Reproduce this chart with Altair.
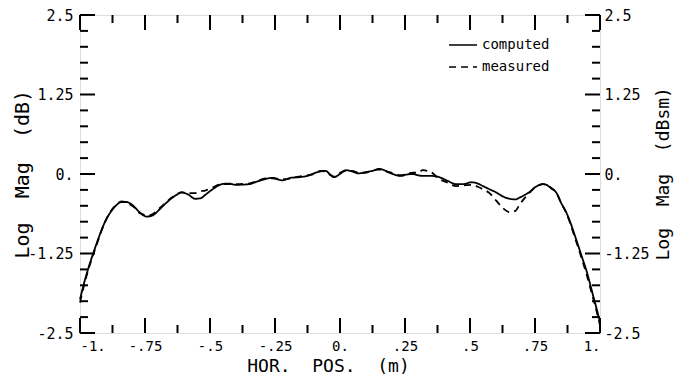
import altair as alt
import pandas as pd

# horizontal position (m)
pos_x = [-1.0, -0.98, -0.956, -0.935, -0.918, -0.9, -0.879, -0.86, -0.84, -0.82,
         -0.808, -0.79, -0.776, -0.76, -0.744, -0.72, -0.70, -0.675, -0.647, -0.625,
         -0.609, -0.585, -0.557, -0.535, -0.519, -0.49, -0.454, -0.43, -0.40, -0.351,
         -0.32, -0.287, -0.26, -0.223, -0.19, -0.158, -0.125, -0.094, -0.075, -0.055,
         -0.04, -0.023, 0.0, 0.022, 0.046, 0.073, 0.099, 0.125, 0.151, 0.17,
         0.19, 0.21, 0.234, 0.255, 0.279, 0.30, 0.318, 0.35, 0.382, 0.41,
         0.447, 0.475, 0.505, 0.53, 0.55, 0.575, 0.601, 0.625, 0.653, 0.675,
         0.691, 0.71, 0.73, 0.75, 0.768, 0.78, 0.794, 0.81, 0.833, 0.85,
         0.871, 0.885, 0.897, 0.91, 0.923, 0.935, 0.948, 0.96, 0.974, 0.987, 1.0]

mag_computed = [-1.97, -1.65, -1.33, -1.08, -0.89, -0.72, -0.58, -0.49, -0.44, -0.44,
                -0.46, -0.52, -0.58, -0.64, -0.67, -0.65, -0.58, -0.48, -0.38, -0.32,
                -0.29, -0.32, -0.39, -0.38, -0.33, -0.24, -0.16, -0.15, -0.17, -0.16,
                -0.12, -0.08, -0.06, -0.10, -0.06, -0.05, -0.03, 0.02, 0.04, 0.05,
                0.0, -0.05, 0.0, 0.06, 0.04, 0.01, 0.03, 0.05, 0.08, 0.06,
                0.02, -0.01, -0.03, -0.01, 0.0, -0.02, -0.03, -0.03, -0.05, -0.10,
                -0.16, -0.16, -0.13, -0.15, -0.19, -0.24, -0.29, -0.35, -0.39, -0.40,
                -0.37, -0.33, -0.28, -0.21, -0.17, -0.16, -0.17, -0.22, -0.30, -0.45,
                -0.61, -0.75, -0.89, -1.05, -1.21, -1.36, -1.52, -1.70, -1.92, -2.12, -2.33]

mag_measured = [-2.02, -1.68, -1.35, -1.10, -0.90, -0.72, -0.57, -0.48, -0.43, -0.45,
                -0.48, -0.53, -0.60, -0.63, -0.66, -0.63, -0.56, -0.47, -0.37, -0.31,
                -0.29, -0.30, -0.30, -0.27, -0.26, -0.21, -0.16, -0.16, -0.16, -0.15,
                -0.11, -0.07, -0.07, -0.08, -0.07, -0.04, -0.02, 0.01, 0.05, 0.04,
                -0.01, -0.04, 0.02, 0.05, 0.05, 0.02, 0.02, 0.06, 0.07, 0.05,
                0.03, 0.0, -0.02, 0.0, 0.02, 0.02, 0.06, 0.03, -0.08, -0.13,
                -0.19, -0.18, -0.17, -0.20, -0.24, -0.30, -0.42, -0.53, -0.60, -0.58,
                -0.48, -0.38, -0.29, -0.21, -0.17, -0.16, -0.17, -0.21, -0.30, -0.45,
                -0.62, -0.77, -0.92, -1.08, -1.24, -1.40, -1.57, -1.75, -1.96, -2.16, -2.38]

series_names = ["computed", "measured"]

x_major = [-1, -0.75, -0.5, -0.25, 0, 0.25, 0.5, 0.75, 1]
x_major_labels = ["-1.", "-.75", "-.5", "-.25", "0.", ".25", ".5", ".75", "1."]
x_minor = [-0.875, -0.625, -0.375, -0.125, 0.125, 0.375, 0.625, 0.875]
y_major = [-2.5, -1.25, 0, 1.25, 2.5]
y_major_labels = ["-2.5", "-1.25", "0.", "1.25", "2.5"]
y_minor = [-2.25, -2.0, -1.75, -1.5, -1.0, -0.75, -0.5, -0.25,
           0.25, 0.5, 0.75, 1.0, 1.5, 1.75, 2.0, 2.25]

assert len(pos_x) == len(mag_computed) == len(mag_measured)

df = pd.concat([
    pd.DataFrame({"x": pos_x, "mag": mag_computed, "series": series_names[0]}),
    pd.DataFrame({"x": pos_x, "mag": mag_measured, "series": series_names[1]}),
])


def label_expr(values, labels):
    parts = [f"datum.value == {v} ? '{l}'" for v, l in zip(values, labels)]
    return " : ".join(parts) + " : ''"


W, H = 520, 318
TMAJ, TMIN = 15, 8
MONO = "DejaVu Sans Mono"
NB = "\u00a0"

xscale = alt.Scale(domain=[-1, 1], nice=False, zero=False)
yscale = alt.Scale(domain=[-2.5, 2.5], nice=False, zero=False)


def axis_style(**kw):
    base = dict(ticks=False, domain=False, grid=False, labelFont=MONO,
                labelFontSize=15, labelColor="black", titleFont=MONO,
                titleFontSize=20, titleFontWeight="normal", titleColor="black",
                labelFlush=False, labelOverlap=False)
    base.update(kw)
    return alt.Axis(**base)


lines = alt.Chart(df).mark_line(color="black", strokeWidth=1.8, interpolate="monotone").encode(
    x=alt.X("x:Q", scale=xscale, axis=axis_style(
        orient="bottom", values=x_major, labelExpr=label_expr(x_major, x_major_labels),
        labelPadding=6, labelFontSize=14, labelFlush=True,
        title=f"HOR.{NB}{NB}POS.{NB}{NB}(m)", titleFontSize=18,
        titleX=248, titleY=38, titleAlign="center", titleBaseline="alphabetic")),
    y=alt.Y("mag:Q", scale=yscale, axis=axis_style(
        orient="left", values=y_major, labelExpr=label_expr(y_major, y_major_labels),
        labelPadding=7, title=f"Log{NB}{NB}Mag{NB}{NB}(dB)", titleAngle=270,
        titleX=-58, titleY=243, titleAlign="left", titleBaseline="middle")),
    strokeDash=alt.StrokeDash("series:N", scale=alt.Scale(domain=series_names, range=[[1, 0], [7, 5]]),
                              legend=alt.Legend(title=None, orient="none", legendX=368, legendY=15,
                                                symbolType="stroke", symbolSize=784,
                                                symbolStrokeWidth=1.5, symbolStrokeColor="black",
                                                labelFont=MONO, labelFontSize=14, labelColor="black",
                                                labelOffset=4, rowPadding=0, padding=0)),
)

xmaj = pd.DataFrame({"x": x_major})
xmin = pd.DataFrame({"x": x_minor})
ymaj = pd.DataFrame({"y": y_major})
ymin = pd.DataFrame({"y": y_minor})


def xticks(data, y0, y1):
    return alt.Chart(data).mark_rule(color="black", strokeWidth=2).encode(
        x=alt.X("x:Q", scale=xscale, axis=None), y=alt.value(y0), y2=alt.value(y1))


def yticks(data, x0, x1, axis=None):
    return alt.Chart(data).mark_rule(color="black", strokeWidth=2).encode(
        y=alt.Y("y:Q", scale=yscale, axis=axis), x=alt.value(x0), x2=alt.value(x1))


right_axis = axis_style(orient="right", values=y_major, labelExpr=label_expr(y_major, y_major_labels),
                        labelPadding=4, title=f"Log{NB}{NB}Mag{NB}{NB}(dBsm)", titleFontSize=18,
                        titleAngle=270, titleX=63, titleY=245, titleAlign="left", titleBaseline="middle")

chart = alt.layer(
    lines,
    xticks(xmaj, H, H - TMAJ), xticks(xmin, H, H - TMIN),
    xticks(xmaj, 0, TMAJ), xticks(xmin, 0, TMIN),
    yticks(ymaj, 0, TMAJ), yticks(ymin, 0, TMIN),
    yticks(ymaj, W, W - TMAJ, right_axis), yticks(ymin, W, W - TMIN),
).resolve_axis(x="independent", y="independent").properties(
    width=W, height=H,
    autosize=alt.AutoSizeParams(type="none"),
    padding={"left": 72, "top": 7, "right": 74, "bottom": 42},
).configure_view(stroke="black", strokeWidth=2).configure(background="white")

chart.save("out.html", embed_options={"renderer": "svg", "actions": False})
